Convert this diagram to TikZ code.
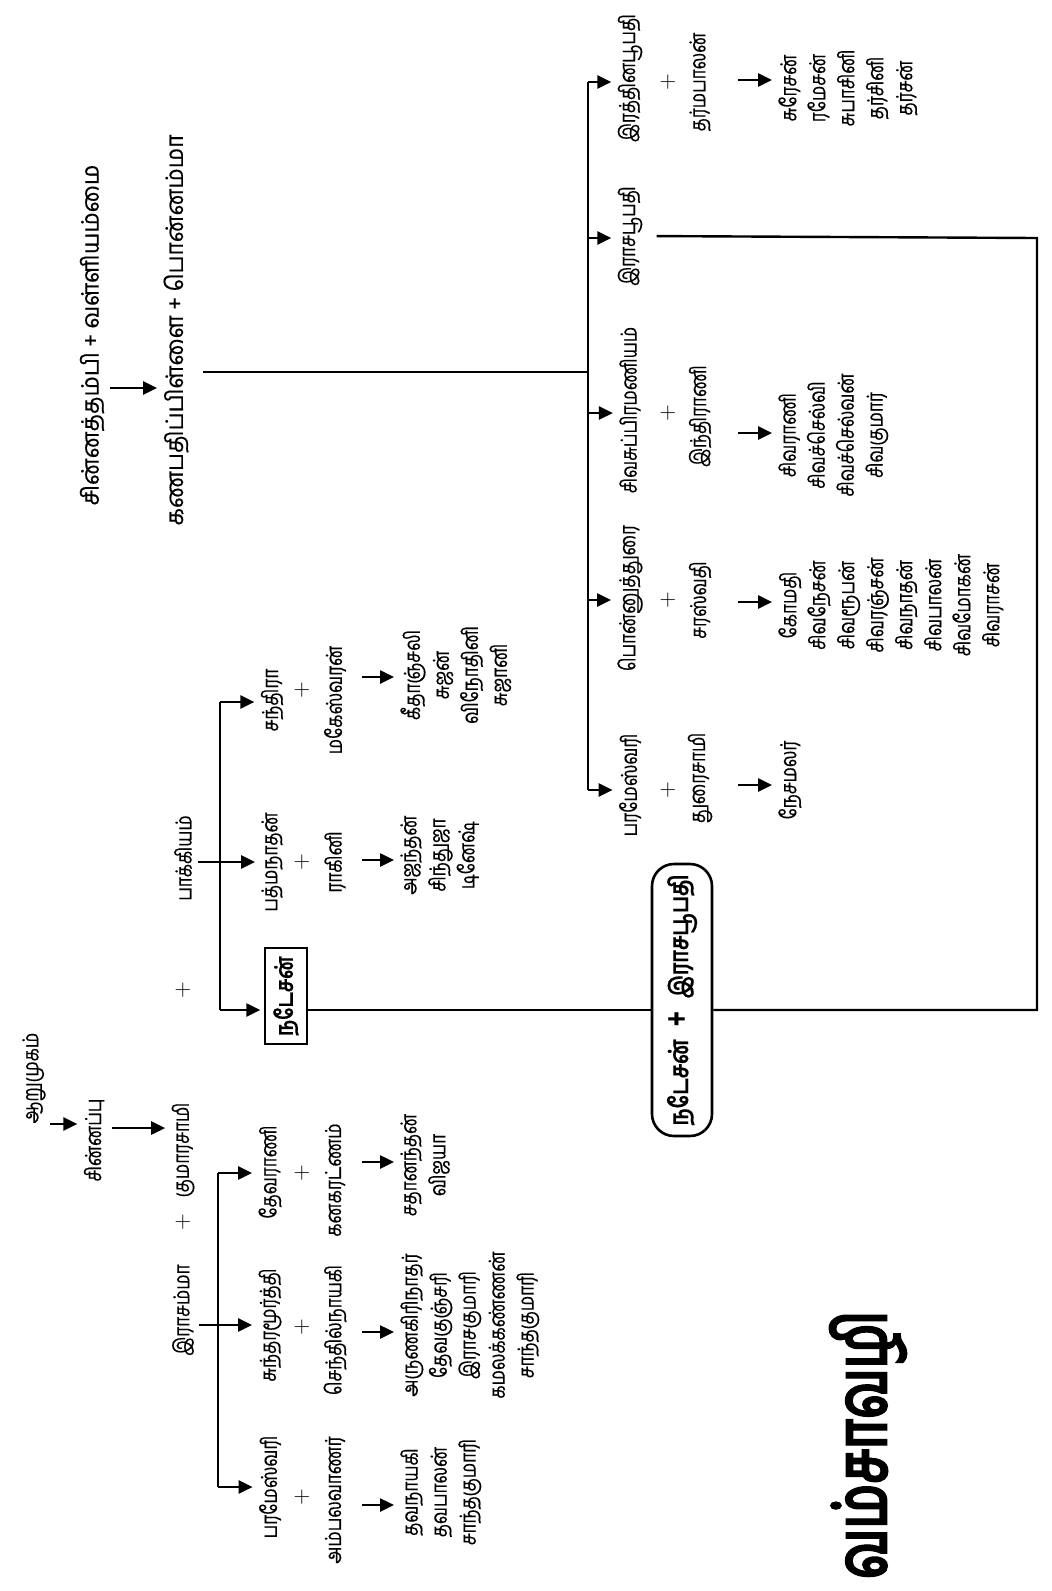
\documentclass[tikz,border=0pt]{standalone}
\usepackage{fontspec}
\newfontfamily\ta[Script=Tamil,FakeStretch=0.78,FakeBold=0.4]{Hind Madurai}
\newfontfamily\tatop[Script=Tamil,FakeStretch=0.95,FakeBold=0.4]{Hind Madurai}
\newfontfamily\titlefont[Script=Tamil,FakeStretch=0.68,FakeBold=1.5]{Hind Madurai}
\usetikzlibrary{arrows.meta}
\begin{document}
\begin{tikzpicture}[x=0.5pt,y=-0.5pt,
 nm/.style={rotate=90,inner sep=1pt,font=\ta\fontsize{11}{14}\selectfont},
 lst/.style={rotate=90,inner sep=1pt,align=center,anchor=north,font=\ta\fontsize{11}{14.5}\selectfont},
 pl/.style={rotate=90,inner sep=1pt,font=\fontsize{11}{13}\selectfont},
 arr/.style={-{Triangle[length=7pt,width=6.5pt]},line width=1.3pt,shorten >=2pt},
 ln/.style={line width=1.2pt}]
\useasboundingbox (0,0) rectangle (1051,1591);
\fill[white] (0,0) rectangle (1051,1591);

% ---------- right family ----------
\node[nm,font=\tatop\fontsize{12}{14}\selectfont] (cv) at (92,335) {சின்னத்தம்பி + வள்ளியம்மை};
\node[nm,font=\tatop\fontsize{12}{14}\selectfont] (kp) at (176,330) {கணபதிப்பிள்ளை + பொன்னம்மா};
\coordinate (ka) at (110,388);
\draw[arr] (ka) -- (ka -| kp.north);
\coordinate (kj) at (588,372);
\draw[ln,shorten <=6pt] (kp.south |- kj) -- (kj);
\coordinate (kt) at (588,82);
\coordinate (kb) at (588,790);
\draw[ln] (kt) -- (kb);
\node[nm] (s1) at (630,78) {இரத்தினபூபதி};
\node[nm] (s2) at (630,236) {இராசபூபதி};
\node[nm] (s3) at (630,410) {சிவசுப்பிரமணியம்};
\node[nm] (s4) at (630,598) {பொன்னுத்துரை};
\node[nm] (s5) at (630,785) {பரமேஸ்வரி};
\coordinate (k2) at (588,238);
\coordinate (k3) at (588,413);
\coordinate (k4) at (588,600);
\draw[arr] (kt) -- (kt -| s1.north);
\draw[arr] (k2) -- (k2 -| s2.north);
\draw[arr] (k3) -- (k3 -| s3.north);
\draw[arr] (k4) -- (k4 -| s4.north);
\draw[arr] (kb) -- (kb -| s5.north);

\node[pl] (q1) at (668,82) {+};
\node[pl] (q3) at (668,413) {+};
\node[pl] (q4) at (668,600) {+};
\node[pl] (q5) at (668,790) {+};
\node[nm] (w1) at (700,82) {தர்மபாலன்};
\node[nm] (w3) at (700,416) {இந்திராணி};
\node[nm] (w4) at (700,600) {சரஸ்வதி};
\node[nm] (w5) at (700,778) {துரைசாமி};

\node[lst] (c1) at (776,88) {சுரேசன்\\ரமேசன்\\சுபாசினி\\தர்சினி\\தர்சன்};
\node[lst] (c3) at (776,435) {சிவராணி\\சிவச்செல்வி\\சிவச்செல்வன்\\சிவகுமார்};
\node[lst] (c4) at (776,605) {கோமதி\\சிவநேசன்\\சிவரூபன்\\சிவரஞ்சன்\\சிவநாதன்\\சிவபாலன்\\சிவமோகன்\\சிவராசன்};
\node[lst] (c5) at (776,780) {நேசமலர்};
\coordinate (m1) at (738,80);
\coordinate (m3) at (738,433);
\coordinate (m4) at (738,602);
\coordinate (m5) at (738,785);
\draw[arr] (m1) -- (m1 -| c1.north);
\draw[arr] (m3) -- (m3 -| c3.north);
\draw[arr] (m4) -- (m4 -| c4.north);
\draw[arr] (m5) -- (m5 -| c5.north);

% ---------- joint box ----------
\node[rotate=90,draw,line width=1.3pt,rounded corners=11pt,fill=white,minimum width=136pt,minimum height=30pt,inner sep=3pt,font=\ta\bfseries\fontsize{13}{14}\selectfont] (rb) at (682,1000) {நடேசன்\enspace{\fontsize{17}{17}\selectfont+}\enspace இராசபூபதி};
\coordinate (r1) at (1037,238);
\coordinate (r2) at (1037,1010);
\draw[ln,shorten <=6pt] (s2.south) -- (r1) -- (r2) -- (r2 -| rb.south);

% ---------- left family ----------
\node[nm] (ar) at (34,1078) {ஆறுமுகம்};
\node[nm] (cn) at (94,1140) {சின்னப்பு};
\node[nm] (ku) at (183,1150) {குமாரசாமி};
\coordinate (g1) at (50,1124);
\coordinate (g2) at (112,1128);
\draw[arr] (g1) -- (g1 -| cn.north);
\draw[arr] (g2) -- (g2 -| ku.north);
\node[pl] (q0) at (183,990) {+};
\node[pl] (q6) at (183,1222) {+};
\node[nm] (pk) at (183,858) {பாக்கியம்};
\node[nm] (ra) at (183,1310) {இராசம்மா};

\coordinate (bA) at (220,702);
\coordinate (bB) at (220,1010);
\draw[ln] (bA) -- (bB);
\node[nm] (sa) at (272,700) {சந்திரா};
\node[nm] (pt) at (272,862) {பத்மநாதன்};
\node[nm,draw,line width=1pt,inner sep=4pt,font=\ta\bfseries\fontsize{12}{14}\selectfont] (nd) at (286,996) {நடேசன்};
\draw[arr] (bA) -- (bA -| sa.north);
\coordinate (bP) at (198,862);
\draw[arr] (bP) -- (bP -| pt.north);
\draw[arr] (bB) -- (bB -| nd.north);
\draw[ln] (nd.south |- r2) -- (rb.north |- r2);

\coordinate (bC) at (218,1173);
\coordinate (bD) at (218,1487);
\draw[ln] (bC) -- (bD);
\node[nm] (dv) at (270,1172) {தேவராணி};
\node[nm] (sm) at (270,1325) {சுந்தரமூர்த்தி};
\node[nm] (pm) at (270,1487) {பரமேஸ்வரி};
\draw[arr] (bC) -- (bC -| dv.north);
\coordinate (bR) at (199,1325);
\draw[arr] (bR) -- (bR -| sm.north);
\draw[arr] (bD) -- (bD -| pm.north);

\node[pl] (q7) at (302,690) {+};
\node[pl] (q8) at (302,862) {+};
\node[pl] (q9) at (302,1173) {+};
\node[pl] (q10) at (302,1327) {+};
\node[pl] (q11) at (302,1497) {+};
\node[nm] (mh) at (335,700) {மகேஸ்வரன்};
\node[nm] (rg) at (335,862) {ராகினி};
\node[nm] (kn) at (335,1180) {கனகரட்ணம்};
\node[nm] (se) at (335,1330) {செந்தில்நாயகி};
\node[nm] (am) at (335,1500) {அம்பலவாணர்};

\node[lst] (l1) at (398,675) {கீதாஞ்சலி\\சுஜன்\\விநோதினி\\சுஜானி};
\node[lst] (l2) at (398,855) {அஜந்தன்\\சிந்துஜா\\டினேஷ்};
\node[lst] (l3) at (398,1165) {சதானந்தன்\\விஜயா};
\node[lst] (l4) at (398,1325) {அருணகிரிநாதர்\\தேவகுஞ்சரி\\இராசகுமாரி\\கமலக்கண்ணன்\\சாந்தகுமாரி};
\node[lst] (l5) at (398,1492) {தவநாயகி\\தவபாலன்\\சாந்தகுமாரி};
\coordinate (n1) at (362,677);
\coordinate (n2) at (362,860);
\coordinate (n3) at (362,1162);
\coordinate (n4) at (362,1332);
\coordinate (n5) at (362,1505);
\draw[arr] (n1) -- (n1 -| l1.north);
\draw[arr] (n2) -- (n2 -| l2.north);
\draw[arr] (n3) -- (n3 -| l3.north);
\draw[arr] (n4) -- (n4 -| l4.north);
\draw[arr] (n5) -- (n5 -| l5.north);

% ---------- title ----------
\node[rotate=90,inner sep=0pt,font=\titlefont\bfseries\fontsize{36}{40}\selectfont] (tt) at (868,1445) {வம்சாவழி};
\end{tikzpicture}
\end{document}
